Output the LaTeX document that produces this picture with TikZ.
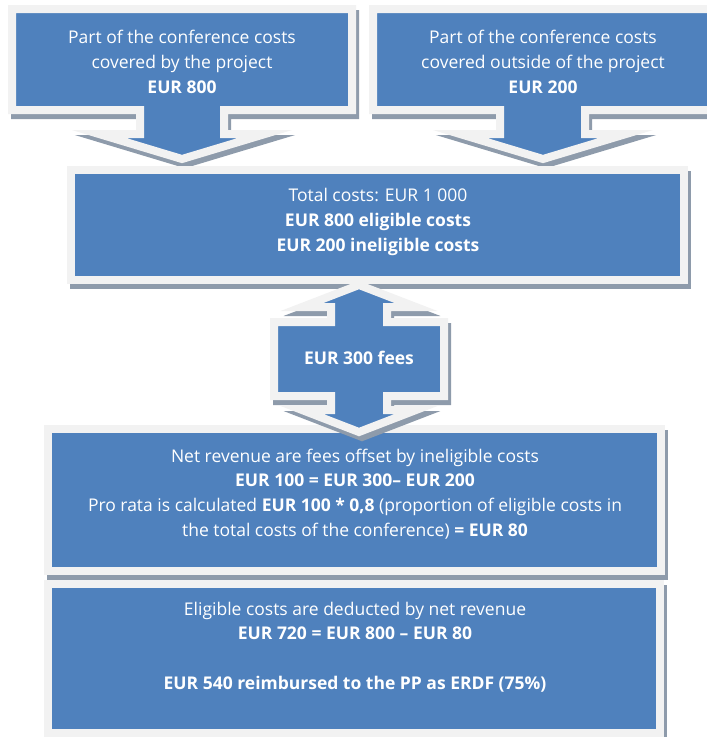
\documentclass[tikz,border=0pt]{standalone}
\usepackage{fontspec}
\setmainfont{Open Sans}
\definecolor{boxblue}{HTML}{4F81BD}
\definecolor{rimgray}{HTML}{F2F2F2}
\definecolor{shadegray}{HTML}{8E9BAB}

\begin{document}
\begin{tikzpicture}[x=1pt, y=-1pt,
    rim/.style={fill=boxblue, draw=rimgray, line width=8pt, line join=miter},
    shade/.style={fill=shadegray, draw=shadegray, line width=8pt, line join=miter, shift={(3,5)}},
    txt/.style={text=white, align=center, font=\fontsize{17.5}{24.7}\selectfont}]
  \useasboundingbox (0,0) rectangle (707,737);
  % the two callouts on top
  \foreach \st in {shade,rim} {
    \path[\st] (12,9) -- (352,9) -- (352,110) -- (224,110) -- (224,134) -- (265,134)
      -- (182,159) -- (99,134) -- (140,134) -- (140,110) -- (12,110) -- cycle;
    \path[\st] (373,9) -- (712,9) -- (712,110) -- (585,110) -- (585,134) -- (626,134)
      -- (543,159) -- (460,134) -- (500,134) -- (500,110) -- (373,110) -- cycle;
  }
  % boxes
  \foreach \st in {shade,rim} {
    \path[\st] (71,170) rectangle (684,280);
    \path[\st] (48,429) rectangle (661,571);
    \path[\st] (48,584) rectangle (660,733);
  }
  % fees, pointing both ways
  \foreach \st in {shade,rim} {
    \path[\st] (274,322) -- (331,322) -- (331,307) -- (302,307) -- (359,285) -- (416,307)
      -- (387,307) -- (387,322) -- (444,322) -- (444,396) -- (387,396) -- (387,410)
      -- (416,410) -- (359,432) -- (302,410) -- (331,410) -- (331,396) -- (274,396) -- cycle;
  }
  \node[txt] (inproj) at (182,62) {Part of the conference costs\\covered by the project\\\textbf{EUR 800}};
  \node[txt] (outproj) at (543,62) {Part of the conference costs\\covered outside of the project\\\textbf{EUR 200}};
  \node[txt] (total) at (378,222) {Total costs: EUR 1 000\\\textbf{EUR 800 eligible costs}\\\textbf{EUR 200 ineligible costs}};
  \node[txt] (fees) at (359,358) {\textbf{EUR 300 fees}};
  \node[txt] (netrev) at (355,494) {Net revenue are fees offset by ineligible costs\\
    \textbf{EUR 100 = EUR 300-- EUR 200}\\
    Pro rata is calculated \textbf{EUR 100 * 0,8} (proportion of eligible costs in\\
    the total costs of the conference) \textbf{= EUR 80}};
  \node[txt] (eligible) at (355,647) {Eligible costs are deducted by net revenue\\
    \textbf{EUR 720 = EUR 800 -- EUR 80}\\[24.7pt]
    \textbf{EUR 540 reimbursed to the PP as ERDF (75\%)}};
\end{tikzpicture}
\end{document}
